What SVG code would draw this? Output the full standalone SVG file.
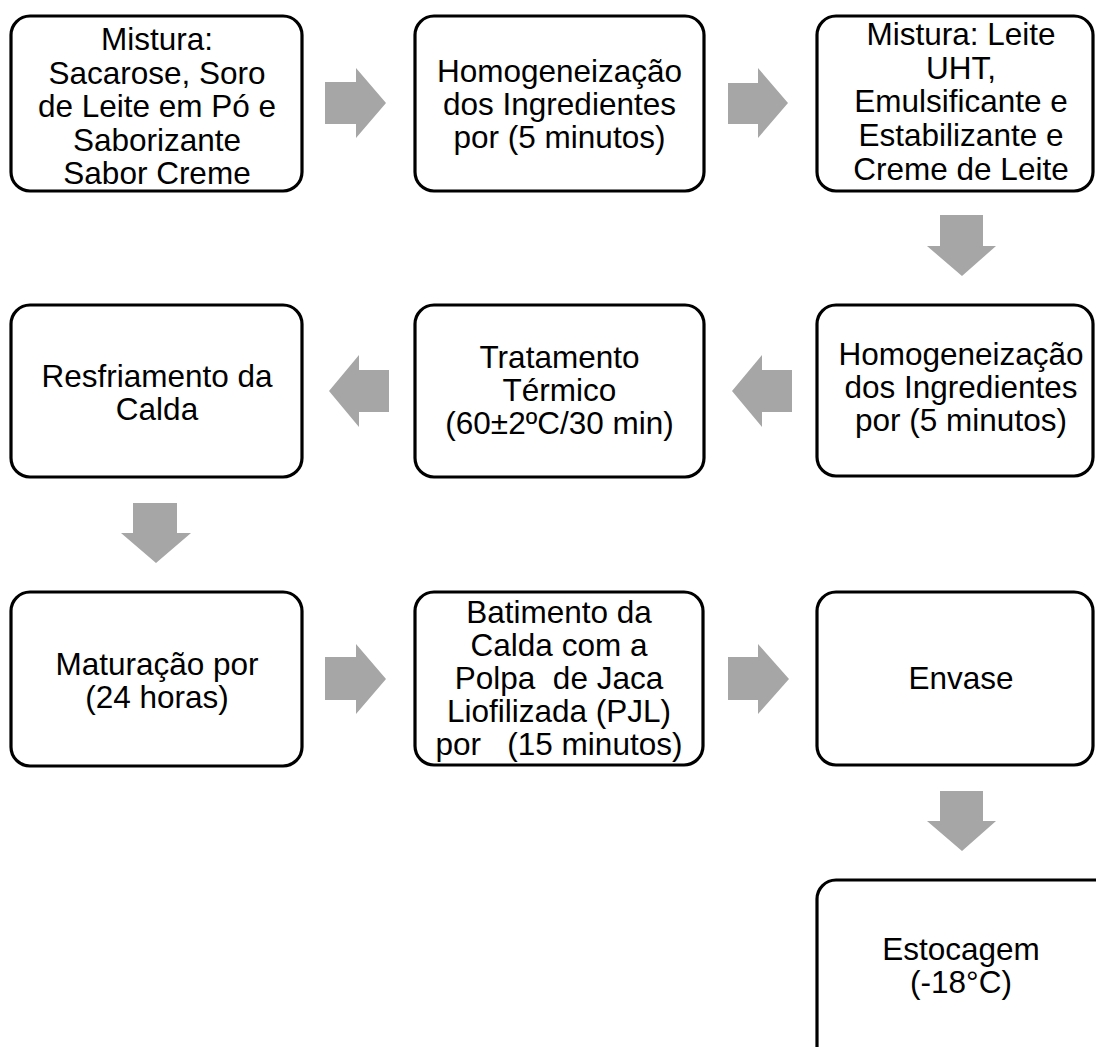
<svg xmlns="http://www.w3.org/2000/svg" width="1096" height="1047" viewBox="0 0 1096 1047">
<style>
.box{fill:#fff;stroke:#000;stroke-width:3.2}
.t{font-family:"Liberation Sans",Arial,sans-serif;font-size:31.5px;fill:#000;text-anchor:middle}
.arr{fill:#a6a6a6;stroke:none}
</style>
<rect width="1096" height="1047" fill="#fff"/>
<g id="n1"><rect class="box" x="11" y="16" width="291" height="175" rx="19"/>
<text class="t"><tspan x="157" y="50">Mistura:</tspan><tspan x="157" y="83.5">Sacarose, Soro</tspan><tspan x="157" y="117">de Leite em Pó e</tspan><tspan x="157" y="150.5">Saborizante</tspan><tspan x="157" y="184">Sabor Creme</tspan></text></g>
<g id="n2"><rect class="box" x="415" y="16" width="289" height="175" rx="19"/>
<text class="t"><tspan x="559.5" y="82">Homogeneização</tspan><tspan x="559.5" y="115">dos Ingredientes</tspan><tspan x="559.5" y="148">por (5 minutos)</tspan></text></g>
<g id="n3"><rect class="box" x="817" y="16" width="276" height="175" rx="19"/>
<text class="t"><tspan x="961" y="45">Mistura: Leite</tspan><tspan x="961" y="79">UHT,</tspan><tspan x="961" y="112">Emulsificante e</tspan><tspan x="961" y="146">Estabilizante e</tspan><tspan x="961" y="180">Creme de Leite</tspan></text></g>
<g id="n4"><rect class="box" x="817" y="305" width="276" height="171" rx="19"/>
<text class="t"><tspan x="961" y="365">Homogeneização</tspan><tspan x="961" y="398">dos Ingredientes</tspan><tspan x="961" y="431">por (5 minutos)</tspan></text></g>
<g id="n5"><rect class="box" x="415" y="305" width="289" height="172" rx="19"/>
<text class="t"><tspan x="559.5" y="368">Tratamento</tspan><tspan x="559.5" y="401">Térmico</tspan><tspan x="559.5" y="434">(60±2ºC/30 min)</tspan></text></g>
<g id="n6"><rect class="box" x="11" y="305" width="291" height="172" rx="19"/>
<text class="t"><tspan x="157" y="387">Resfriamento da</tspan><tspan x="157" y="420">Calda</tspan></text></g>
<g id="n7"><rect class="box" x="11" y="592" width="291" height="174" rx="19"/>
<text class="t"><tspan x="157" y="675">Maturação por</tspan><tspan x="157" y="708">(24 horas)</tspan></text></g>
<g id="n8"><rect class="box" x="415" y="592" width="288" height="173" rx="19"/>
<text class="t" xml:space="preserve"><tspan x="559" y="623">Batimento da</tspan><tspan x="559" y="656">Calda com a</tspan><tspan x="559" y="689">Polpa  de Jaca</tspan><tspan x="559" y="722">Liofilizada (PJL)</tspan><tspan x="559" y="755">por   (15 minutos)</tspan></text></g>
<g id="n9"><rect class="box" x="817" y="592" width="276" height="173" rx="19"/>
<text class="t"><tspan x="961" y="689">Envase</tspan></text></g>
<g id="n10"><rect class="box" x="817" y="880" width="300" height="190" rx="19"/>
<text class="t"><tspan x="961" y="960">Estocagem</tspan><tspan x="961" y="993">(-18°C)</tspan></text></g>
<g id="connectors">
<polygon class="arr" points="325,82 356,82 356,68 386,103 356,138 356,124 325,124"/>
<polygon class="arr" points="728,83 758,83 758,68 788,103 758,138 758,124 728,124"/>
<polygon class="arr" points="940,215 983,215 983,246 996,246 962,276 927,246 940,246"/>
<polygon class="arr" points="792,370 762,370 762,355 732,391 762,427 762,412 792,412"/>
<polygon class="arr" points="389,370 359,370 359,355 329,391 359,427 359,412 389,412"/>
<polygon class="arr" points="133,503 177,503 177,533 191,533 156,563 121,533 133,533"/>
<polygon class="arr" points="325,657 356,657 356,644 386,679 356,714 356,700 325,700"/>
<polygon class="arr" points="728,657 758,657 758,644 789,679 758,714 758,700 728,700"/>
<polygon class="arr" points="940,791 983,791 983,821 996,821 962,851 927,821 940,821"/>
</g>
</svg>
